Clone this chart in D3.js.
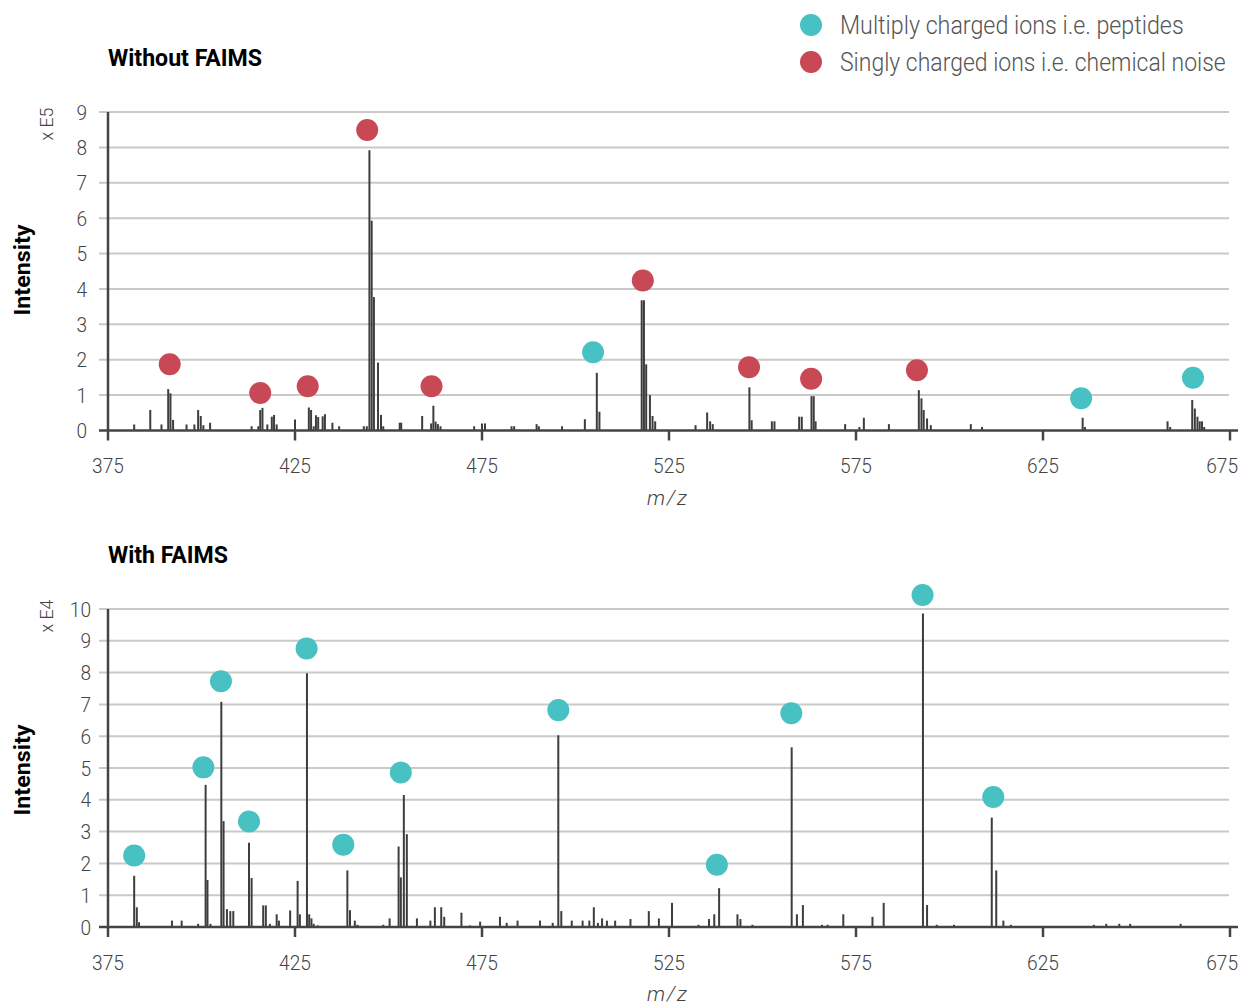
<!DOCTYPE html>
<html><head><meta charset="utf-8">
<script src="https://cdn.jsdelivr.net/npm/d3@7"></script>
<style>
body{margin:0;background:#fff;}
text{font-family:"Roboto","Liberation Sans",sans-serif;}
</style></head>
<body><svg id="c" width="1240" height="1007"></svg>
<script>
// ---------- DATA ----------
const xTicks = [375, 425, 475, 525, 575, 625, 675];
const topYTicks = [0,1,2,3,4,5,6,7,8,9];
const botYTicks = [0,1,2,3,4,5,6,7,8,9,10];

// Without FAIMS (intensity x E5)
const topMz  = [382.0,386.3,389.3,391.1,391.7,392.4,396.0,398.1,399.1,399.8,400.5,402.3,413.4,415.2,415.7,416.3,417.6,418.8,419.4,420.1,425.0,428.7,429.3,430.0,430.6,431.2,432.4,433.0,435.0,436.8,443.4,444.2,444.9,445.5,446.1,447.2,448.0,448.6,453.0,453.4,459.0,461.4,462.0,462.6,463.2,463.9,472.9,475.0,475.8,482.9,483.6,489.6,490.2,496.4,502.5,505.7,506.4,517.7,518.3,518.9,519.9,520.6,521.3,532.1,535.2,536.0,536.7,546.5,547.1,552.5,553.2,559.8,560.5,563.1,563.7,564.2,572.1,575.9,577.1,583.8,591.8,592.5,593.1,594.0,595.0,605.7,608.7,635.6,636.2,658.3,659.0,664.9,665.6,666.3,666.9,667.5,668.1];
const topInt = [0.17,0.58,0.17,1.17,1.05,0.30,0.17,0.17,0.58,0.41,0.15,0.22,0.12,0.12,0.58,0.64,0.17,0.39,0.44,0.17,0.31,0.65,0.58,0.12,0.43,0.38,0.40,0.46,0.22,0.12,0.12,0.12,7.92,5.93,3.77,1.92,0.44,0.12,0.22,0.22,0.41,0.20,0.70,0.25,0.18,0.12,0.12,0.20,0.20,0.12,0.12,0.18,0.12,0.12,0.32,1.63,0.53,3.68,3.68,1.87,1.00,0.41,0.26,0.15,0.51,0.26,0.18,1.22,0.29,0.26,0.26,0.39,0.39,0.97,0.97,0.26,0.18,0.10,0.36,0.18,1.14,0.91,0.58,0.34,0.15,0.18,0.10,0.36,0.10,0.26,0.10,0.86,0.62,0.39,0.26,0.26,0.10];
const topPeptideMz  = [504.7, 635.2, 665.1];
const topPeptideInt = [2.21, 0.91, 1.49];
const topNoiseMz  = [391.5, 415.7, 428.4, 444.3, 461.5, 518.0, 546.4, 563.0, 591.3];
const topNoiseInt = [1.87, 1.06, 1.25, 8.49, 1.25, 4.24, 1.79, 1.46, 1.70];

// With FAIMS (intensity x E4)
const botMz  = [382.0,382.7,383.3,392.1,394.7,399.1,401.1,401.6,402.4,405.3,405.9,406.8,407.7,408.5,412.7,413.4,416.5,417.2,418.3,420.1,420.7,423.7,425.7,426.3,428.2,428.8,429.4,430.0,431.1,439.0,439.7,441.0,441.7,448.6,450.3,452.7,453.3,454.1,454.9,457.6,461.2,462.4,464.1,464.9,469.5,471.8,474.5,479.8,481.6,484.5,490.5,493.9,495.4,496.2,499.0,501.9,503.7,504.9,506.0,507.1,508.4,510.6,514.7,519.6,522.3,525.8,532.9,535.7,537.1,538.4,543.3,544.1,547.3,557.8,559.2,560.8,565.9,567.4,571.6,579.4,582.4,592.9,594.0,596.6,601.2,611.3,612.5,614.4,616.4,638.6,641.9,645.4,648.3,661.8];
const botInt = [1.61,0.62,0.15,0.20,0.20,0.10,4.47,1.48,0.10,7.08,3.33,0.56,0.50,0.50,2.65,1.54,0.68,0.68,0.10,0.40,0.20,0.52,1.45,0.40,7.98,0.40,0.27,0.10,0.05,1.78,0.53,0.20,0.07,0.07,0.27,2.53,1.56,4.15,2.92,0.27,0.20,0.62,0.62,0.32,0.45,0.05,0.17,0.32,0.13,0.20,0.20,0.13,6.03,0.50,0.20,0.20,0.20,0.62,0.13,0.27,0.20,0.20,0.25,0.50,0.27,0.76,0.07,0.25,0.40,1.22,0.40,0.25,0.07,5.65,0.40,0.69,0.07,0.07,0.40,0.32,0.76,9.86,0.69,0.07,0.07,3.44,1.78,0.20,0.07,0.07,0.10,0.10,0.10,0.10];
const botPeptideMz  = [382.0,400.5,405.2,412.7,428.1,437.9,453.3,495.4,537.8,557.7,592.8,611.7];
const botPeptideInt = [2.25,5.02,7.73,3.32,8.76,2.59,4.86,6.82,1.96,6.72,10.44,4.09];

const legendLabels = ["Multiply charged ions i.e. peptides", "Singly charged ions i.e. chemical noise"];
// ---------- STYLE ----------
const TEAL = "#47c1c1", RED = "#c94855", BAR = "#3d3d3d", AXIS = "#444", GRID = "#c9c9c9", TXT = "#444";
const DIGIT_W = 10.6;

const svg = d3.select("#c");
const x = d3.scaleLinear().domain([375, 675]).range([108, 1230]);

function condensed(sel, w){ sel.attr("textLength", w).attr("lengthAdjust","spacingAndGlyphs"); }

function panel(o){
  const g = svg.append("g");
  const y = d3.scaleLinear().domain([0, o.max]).range([o.y0, o.yTop]);
  g.selectAll(".grid").data(o.yTicks.filter(d=>d>0)).join("line")
    .attr("x1",99).attr("x2",1229).attr("y1",d=>y(d)).attr("y2",d=>y(d))
    .attr("stroke",GRID).attr("stroke-width",2);
  g.selectAll(".yl").data(o.yTicks).join("text")
    .attr("x",o.yLabX).attr("y",d=>y(d)).attr("dy","0.36em").attr("text-anchor","end")
    .attr("font-size",21).attr("font-weight",300).attr("fill",TXT)
    .attr("textLength",d=>String(d).length*DIGIT_W).attr("lengthAdjust","spacingAndGlyphs")
    .text(d=>d);
  g.selectAll(".bar").data(o.mz.map((m,i)=>({m, v:o.int[i]}))).join("line")
    .attr("x1",d=>x(d.m)).attr("x2",d=>x(d.m)).attr("y1",y(0)).attr("y2",d=>y(d.v))
    .attr("stroke",BAR).attr("stroke-width",2);
  g.append("line").attr("x1",108).attr("x2",108).attr("y1",y(o.max)).attr("y2",y(0))
    .attr("stroke",AXIS).attr("stroke-width",2.5);
  g.append("line").attr("x1",99).attr("x2",1238).attr("y1",y(0)).attr("y2",y(0))
    .attr("stroke",AXIS).attr("stroke-width",2.5);
  g.selectAll(".xt").data(xTicks).join("line")
    .attr("x1",d=>x(d)).attr("x2",d=>x(d)).attr("y1",y(0)).attr("y2",y(0)+10)
    .attr("stroke",AXIS).attr("stroke-width",2.5);
  g.selectAll(".xl").data(xTicks).join("text")
    .attr("x",(d,i)=> i===xTicks.length-1 ? 1238 : x(d))
    .attr("y",y(0)+35).attr("dy","0.36em")
    .attr("text-anchor",(d,i)=> i===xTicks.length-1 ? "end" : "middle")
    .attr("font-size",21).attr("font-weight",300).attr("fill",TXT)
    .attr("textLength",d=>String(d).length*DIGIT_W).attr("lengthAdjust","spacingAndGlyphs")
    .text(d=>d);
  g.append("text").attr("x",668).attr("y",y(0)+67).attr("dy","0.35em").attr("text-anchor","middle")
    .attr("font-size",21).attr("font-weight",300).attr("font-style","italic").attr("fill",TXT)
    .attr("letter-spacing",2).text("m/z");
  o.dots.forEach(ds=>{
    g.selectAll(null).data(ds.mz.map((m,i)=>({m,v:ds.int[i]}))).join("circle")
      .attr("cx",d=>x(d.m)).attr("cy",d=>y(d.v)).attr("r",11).attr("fill",ds.color);
  });
  g.append("text").attr("x",108).attr("y",o.titleY).attr("dy","0.36em")
    .attr("font-size",23).attr("font-weight","bold").attr("fill","#000")
    .call(condensed, o.titleW).text(o.title);
  g.append("text").attr("transform",`translate(30,${o.intY}) rotate(-90)`).attr("text-anchor","middle")
    .attr("font-size",22).attr("font-weight","bold").attr("fill","#000")
    .call(condensed, 91).text("Intensity");
  g.append("text").attr("transform",`translate(53,${o.expY}) rotate(-90)`).attr("text-anchor","middle")
    .attr("font-size",18).attr("font-weight",300).attr("fill",TXT)
    .call(condensed, 33).text(o.exp);
}

panel({max:9, y0:430.5, yTop:112, yTicks:topYTicks, mz:topMz, int:topInt, yLabX:87,
  dots:[{mz:topNoiseMz,int:topNoiseInt,color:RED},{mz:topPeptideMz,int:topPeptideInt,color:TEAL}],
  title:"Without FAIMS", titleW:154, titleY:58, intY:270, exp:"x E5", expY:124});
panel({max:10, y0:927, yTop:609, yTicks:botYTicks, mz:botMz, int:botInt, yLabX:91,
  dots:[{mz:botPeptideMz,int:botPeptideInt,color:TEAL}],
  title:"With FAIMS", titleW:120, titleY:555, intY:770, exp:"x E4", expY:616});

// legend (text horizontally scaled to the reference's condensed width)
const legendW = [344, 386];
const lg = svg.append("g");
[TEAL, RED].forEach((c,i)=>{
  const cy = 25 + i*37;
  lg.append("circle").attr("cx",811).attr("cy",cy).attr("r",11).attr("fill",c);
  const t = lg.append("text").attr("x",0).attr("y",0).attr("dy","0.36em")
    .attr("font-size",25).attr("font-weight",300).attr("fill","#555")
    .text(legendLabels[i]);
  const natural = t.node().getComputedTextLength();
  t.attr("transform",`translate(840,${cy}) scale(${legendW[i]/natural},1)`);
});
</script></body></html>
